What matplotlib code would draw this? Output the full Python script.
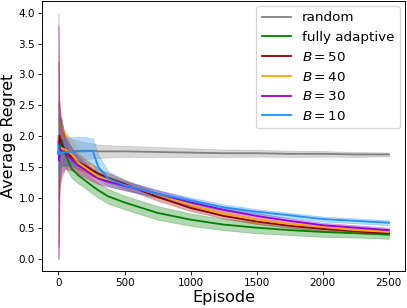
import numpy as np
import matplotlib
matplotlib.use("Agg")
import matplotlib.pyplot as plt

# ── Data ────────────────────────────────
episodes = [0, 5, 10, 25, 50, 100, 150, 200, 260, 300, 375, 500,
            750, 1000, 1250, 1500, 1750, 2000, 2250, 2500]

random_mean = [2.00, 1.70, 1.78, 1.72, 1.74, 1.75, 1.76, 1.76, 1.76, 1.75,
               1.75, 1.75, 1.74, 1.73, 1.72, 1.72, 1.71, 1.71, 1.70, 1.70]
random_std  = [2.00, 0.75, 0.60, 0.40, 0.28, 0.20, 0.16, 0.14, 0.12, 0.11,
               0.10, 0.09, 0.08, 0.07, 0.06, 0.055, 0.05, 0.045, 0.04, 0.03]

adaptive_mean = [1.75, 1.65, 1.80, 1.93, 1.72, 1.47, 1.36, 1.28, 1.18, 1.12,
                 1.02, 0.92, 0.75, 0.64, 0.56, 0.51, 0.47, 0.44, 0.42, 0.40]
adaptive_std  = [0.80, 0.60, 0.50, 0.35, 0.22, 0.15, 0.13, 0.12, 0.12, 0.12,
                 0.12, 0.11, 0.11, 0.10, 0.09, 0.09, 0.08, 0.08, 0.07, 0.07]

b50_mean = [1.70, 1.90, 2.00, 1.85, 1.78, 1.66, 1.58, 1.52, 1.44, 1.39,
            1.32, 1.22, 1.01, 0.83, 0.70, 0.61, 0.54, 0.49, 0.45, 0.42]
b50_std  = [1.50, 0.70, 0.50, 0.35, 0.25, 0.15, 0.12, 0.10, 0.10, 0.08,
            0.08, 0.07, 0.06, 0.05, 0.04, 0.04, 0.03, 0.03, 0.03, 0.03]

b40_mean = [1.80, 1.70, 1.75, 1.80, 1.78, 1.70, 1.57, 1.49, 1.40, 1.34,
            1.28, 1.20, 1.05, 0.88, 0.74, 0.64, 0.57, 0.52, 0.47, 0.44]
b40_std  = [1.50, 0.60, 0.50, 0.35, 0.30, 0.25, 0.18, 0.14, 0.12, 0.10,
            0.09, 0.08, 0.06, 0.05, 0.04, 0.04, 0.03, 0.03, 0.03, 0.03]

b30_mean = [1.90, 1.60, 1.80, 1.75, 1.72, 1.62, 1.52, 1.45, 1.36, 1.31,
            1.26, 1.19, 1.06, 0.92, 0.80, 0.70, 0.62, 0.55, 0.51, 0.47]
b30_std  = [1.90, 1.10, 0.60, 0.35, 0.25, 0.18, 0.14, 0.12, 0.10, 0.09,
            0.08, 0.07, 0.06, 0.06, 0.05, 0.05, 0.04, 0.04, 0.04, 0.04]

b10_mean = [1.85, 1.70, 1.72, 1.73, 1.74, 1.74, 1.75, 1.75, 1.76, 1.50,
            1.31, 1.20, 1.06, 0.95, 0.84, 0.77, 0.71, 0.65, 0.62, 0.59]
b10_std  = [0.50, 0.30, 0.25, 0.22, 0.22, 0.24, 0.24, 0.23, 0.20, 0.20,
            0.12, 0.08, 0.06, 0.05, 0.05, 0.04, 0.04, 0.04, 0.04, 0.04]

series = [
    ("random",          random_mean,   random_std,   "gray"),
    ("fully adaptive",  adaptive_mean, adaptive_std, "green"),
    (r"$B=50$",         b50_mean,      b50_std,      "darkred"),
    (r"$B=40$",         b40_mean,      b40_std,      "orange"),
    (r"$B=30$",         b30_mean,      b30_std,      "darkviolet"),
    (r"$B=10$",         b10_mean,      b10_std,      "dodgerblue"),
]

fig = plt.figure(figsize=(4.07, 3.08), dpi=100)
ax = fig.add_axes([0.103, 0.119, 0.893, 0.879])

x = np.array(episodes)
for label, mean, std, color in series:
    m = np.array(mean)
    s = np.array(std)
    ax.fill_between(x, m - s, m + s, color=color, alpha=0.3, linewidth=0.6)
    ax.plot(x, m, color=color, linewidth=1.3, label=label)

ax.set_xlim(-125, 2625)
ax.set_ylim(-0.2, 4.2)
ax.set_xticks([0, 500, 1000, 1500, 2000, 2500])
ax.set_yticks(np.arange(0, 4.01, 0.5))
ax.tick_params(labelsize=7.5, length=3, width=0.6, pad=2)
ax.set_xlabel("Episode", fontsize=11.5, labelpad=1)
ax.set_ylabel("Average Regret", fontsize=11.5, labelpad=2)
for sp in ax.spines.values():
    sp.set_linewidth(0.7)

ax.legend(loc="upper right", fontsize=9.7, handlelength=2.2,
          borderaxespad=0.4, framealpha=0.8)

fig.savefig("out.png", dpi=100)
